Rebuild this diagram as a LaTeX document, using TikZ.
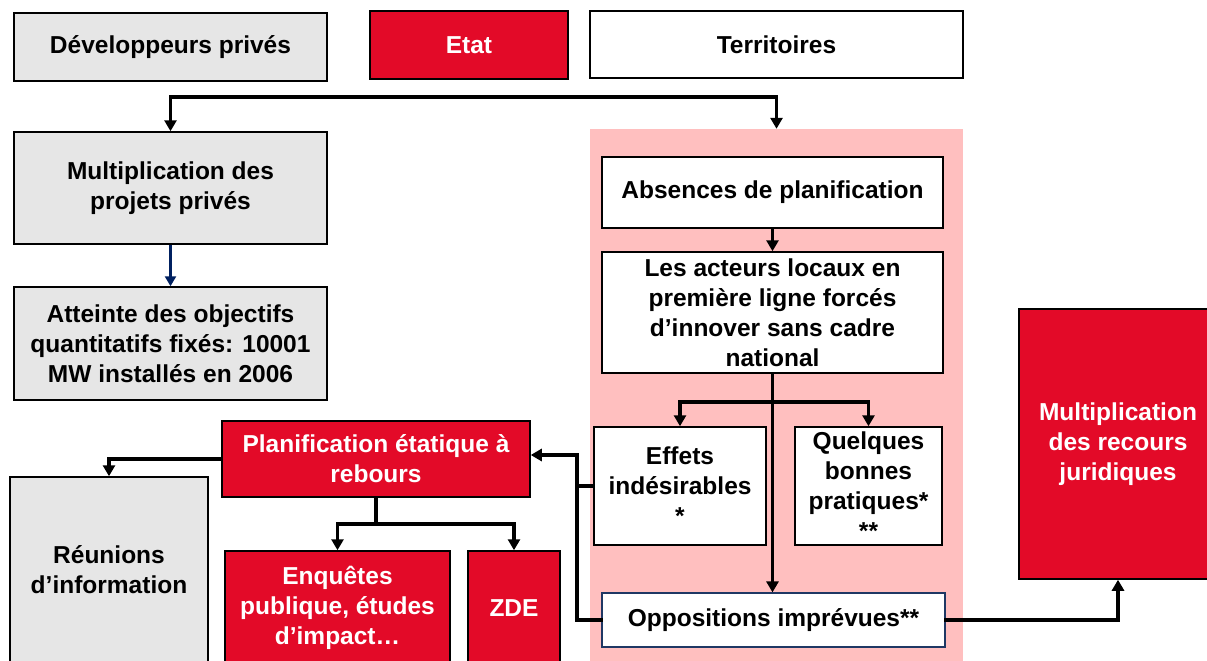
\documentclass[tikz,border=0pt]{standalone}
\usepackage{fontspec}
\setmainfont{Liberation Sans}
\usetikzlibrary{arrows.meta}

\definecolor{etatred}{RGB}{227,10,40}
\definecolor{privgrey}{RGB}{230,230,230}
\definecolor{zonepink}{RGB}{255,191,191}
\definecolor{navy}{RGB}{0,32,96}
\definecolor{oppblue}{RGB}{31,56,100}

\tikzset{
  box/.style={draw, line width=1.5pt, inner sep=0pt, align=center,
    font=\bfseries\fontsize{24.5}{30}\selectfont},
  greybox/.style={box, fill=privgrey},
  redbox/.style={box, fill=etatred, text=white},
  whitebox/.style={box, fill=white},
  link/.style={line width=3.5pt, line cap=rect},
  arr/.style={link, -{Triangle[width=12pt,length=11pt]}},
}

\begin{document}
\begin{tikzpicture}[x=1pt,y=1pt,yscale=-1,xscale=1]
\useasboundingbox (0,0) rectangle (1207,661);

%Shape: pink zone behind the territorial boxes
\node [fill=zonepink, minimum width=373, minimum height=532, inner sep=0pt] (zone) at (776.5,395) {};

% Top row
\node [greybox, minimum width=313, minimum height=68] (dev) at (170.5,47) {Développeurs privés};
\node [redbox, minimum width=198, minimum height=68] (etat) at (469,45) {Etat};
\node [whitebox, minimum width=373, minimum height=67] (terr) at (776.5,44.5) {Territoires};

% Left column
\node [greybox, minimum width=313, minimum height=112] (multproj) at (170.5,188) {Multiplication des\\projets privés};
\node [greybox, minimum width=313, minimum height=113] (atteinte) at (170.5,343.5) {Atteinte des objectifs\\quantitatifs fixés: 10001\\MW installés en 2006};
\node [redbox, minimum width=308, minimum height=76] (planif) at (376,459) {Planification étatique à\\rebours};
\node [greybox, minimum width=198, minimum height=186] (reunions) at (109,570) {Réunions\\d’information};
\node [redbox, minimum width=225, minimum height=114] (enquetes) at (337.5,608) {Enquêtes\\publique, études\\d’impact…};
\node [redbox, minimum width=92, minimum height=114] (zde) at (514,608) {ZDE};

% Pink zone
\node [whitebox, minimum width=341, minimum height=71] (absences) at (772.5,192.5) {Absences de planification};
\node [whitebox, minimum width=341, minimum height=121] (acteurs) at (772.5,312.5) {Les acteurs locaux en\\première ligne forcés\\d’innover sans cadre\\national};
\node [whitebox, minimum width=172, minimum height=118] (effets) at (680,486) {Effets\\indésirables\\*};
\node [whitebox, minimum width=147, minimum height=118] (bonnes) at (868.5,486) {Quelques\\bonnes\\pratiques*\\**};
\node [whitebox, draw=oppblue, line width=1.2pt, minimum width=343, minimum height=54] (opp) at (773.5,620) {Oppositions imprévues**};

% Right
\node [redbox, minimum width=198, minimum height=270] (recours) at (1118,444) {Multiplication\\des recours\\juridiques};

% Connectors
\coordinate (top) at (473,97);
\draw [arr] (top) -| (multproj.north);
\draw [arr] (top) -| (zone.north);
\draw [navy, line width=3pt, -{Triangle[width=11pt,length=10pt]}] (multproj.south) -- (atteinte.north);
\draw [arr] (absences.south) -- (acteurs.north);
\draw [arr] (acteurs.south) -- (acteurs.south |- opp.north);
\coordinate (fork) at (772.5,402);
\draw [arr] (fork) -| (effets.north);
\draw [arr] (fork) -| (bonnes.north);
\coordinate (junc) at (577,455);
\draw [arr] (opp.west) -| (junc) -- (junc -| planif.east);
\draw [link] (effets.west) -- (effets.west -| junc);
\draw [arr] (opp.east) -| (recours.south);
\draw [arr] (planif.west) -| (reunions.north);
\coordinate (fork2) at (376,524);
\draw [link] (planif.south) -- (fork2);
\draw [arr] (fork2) -| (enquetes.north);
\draw [arr] (fork2) -| (zde.north);

\end{tikzpicture}
\end{document}
